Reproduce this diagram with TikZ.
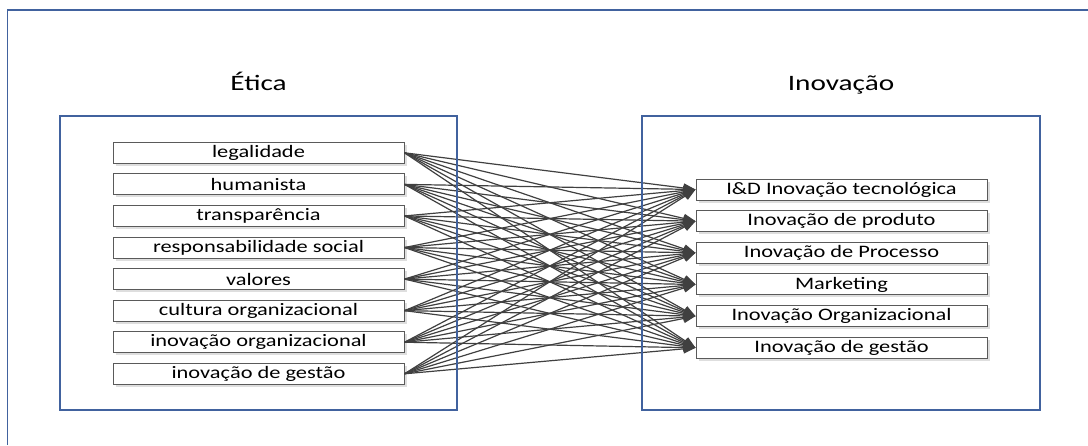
\documentclass[tikz,border=0pt]{standalone}
\usepackage{fontspec}
\setmainfont{Carlito}
\usetikzlibrary{arrows.meta,shadows}
\definecolor{frameblue}{HTML}{41629E}
\definecolor{boxgray}{HTML}{5A5A5A}
\definecolor{linkgray}{HTML}{404040}
% labels are set a little wider than the font's natural width
\newcommand\widetext[1]{\scalebox{1.28}[1]{#1}}
\newcommand\wideheading[1]{\scalebox{1.33}[1]{#1}}
\begin{document}
\begin{tikzpicture}[x=1pt,y=-1pt,
  frame/.style={draw=frameblue, line width=1.3pt},
  item/.style={draw=boxgray, fill=white, line width=1pt,
    minimum width=291pt, minimum height=21pt, inner sep=0pt,
    font=\fontsize{17.5}{17.5}\selectfont,
    general shadow={fill=black!13, shadow xshift=2.5pt, shadow yshift=-2.5pt}},
  link/.style={draw=linkgray, line width=1.2pt, -{Triangle[length=12pt,width=9pt]}},
  heading/.style={font=\fontsize{22}{22}\selectfont, anchor=base, inner sep=0pt}]
\useasboundingbox (0,0) rectangle (1088,445);

% ethics items (left column)
\foreach \t [count=\i] in {legalidade, humanista, transparência,
    responsabilidade social, valores, cultura organizacional,
    inovação organizacional, inovação de gestão}
  \node[item] (L\i) at (258.5, 152.8+31.57*\i-31.57) {\widetext{\t}};

% innovation items (right column)
\foreach \t [count=\j] in {I\&D Inovação tecnológica, Inovação de produto,
    Inovação de Processo, Marketing, Inovação Organizacional, Inovação de gestão}
  \node[item] (R\j) at (841.5, 189.5+31.66*\j-31.66) {\widetext{\t}};

% every ethics item points to every innovation item
\foreach \i in {1,...,8}
  \foreach \j in {1,...,6}
    \draw[link] (L\i.east) -- (R\j.west);

% group frames and outer frame
\draw[frame] (60,116) rectangle (457,410);
\draw[frame] (642,116) rectangle (1040,410);
\draw[frame] (7.5,445) -- (7.5,10) -- (1088,10);

\node[heading] (etica) at (258.5,90.7) {\wideheading{Ética}};
\node[heading] (inov) at (841,90.7) {\wideheading{Inovação}};
\end{tikzpicture}
\end{document}
